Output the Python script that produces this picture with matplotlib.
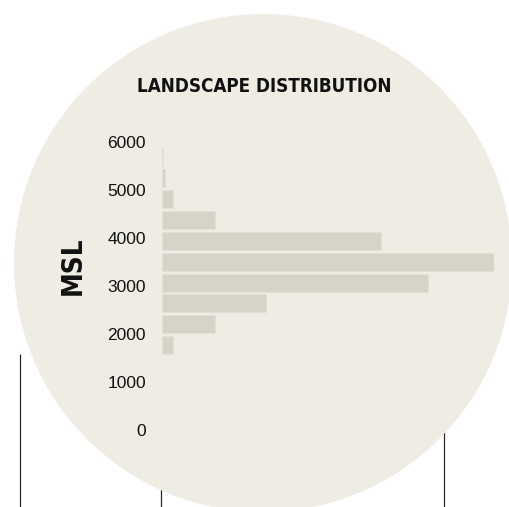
import numpy as np
import matplotlib.pyplot as plt
from matplotlib.patches import Circle

# altitude bins (metres) and how much land falls in each, low to high
bin_edges = [1525, 1960, 2395, 2830, 3260, 3690, 4125, 4560, 5000, 5435, 5870]
counts = [34, 159, 312, 802, 1000, 659, 159, 34, 10, 4]
tick_vals = [0, 1000, 2000, 3000, 4000, 5000, 6000]
title = "LANDSCAPE DISTRIBUTION"
y_title = "MSL"

W, H = 509, 507
fig = plt.figure(figsize=(W / 100, H / 100), dpi=100)
fig.patch.set_facecolor("white")

# background layer in pixel coords
bg = fig.add_axes([0, 0, 1, 1])
bg.set_xlim(0, W)
bg.set_ylim(H, 0)
bg.axis("off")

# thin dark lines sticking out below the disc
for x, y0 in [(20, 354), (161.5, 470), (444, 420)]:
    bg.plot([x, x], [y0, H], color="#2b2b2b", lw=0.9, zorder=0, solid_capstyle="butt")

bg.add_patch(Circle((263, 263), 249, facecolor="#efece4", edgecolor="none", zorder=1))

bg.text(264, 87, title, ha="center", va="center", family="DejaVu Sans",
        fontstretch="condensed", fontweight="bold", fontsize=13.5, color="#111111", zorder=3)
bg.text(73, 266, y_title, ha="center", va="center", rotation=90, family="DejaVu Sans",
        fontstretch="condensed", fontweight="bold", fontsize=20, color="#111111", zorder=3)

# histogram axes: 0 m at y=430 px, 6000 m at y=142 px, bars start at x=162
x0, x1 = 162, 494
ypix0, ypix1 = 430, 142
ax = fig.add_axes([x0 / W, (H - ypix0) / H, (x1 - x0) / W, (ypix0 - ypix1) / H])
ax.set_facecolor("none")
ax.set_xlim(0, max(counts))
ax.set_ylim(0, 6000)

lows = np.array(bin_edges[:-1])
widths = np.diff(bin_edges)
gap = 55
ax.barh(lows + gap, counts, height=widths - gap, align="edge",
        color="#d6d4c8", edgecolor="#e3e1d7", linewidth=0.6, zorder=2)

ax.set_yticks(tick_vals)
ax.set_yticklabels([str(v) for v in tick_vals], family=["Liberation Sans", "DejaVu Sans"],
                   fontsize=12.5, color="#111111")
ax.tick_params(axis="y", length=0, pad=11.5)
ax.set_xticks([])
for s in ax.spines.values():
    s.set_visible(False)

fig.savefig("out.png", dpi=100, facecolor="white")
